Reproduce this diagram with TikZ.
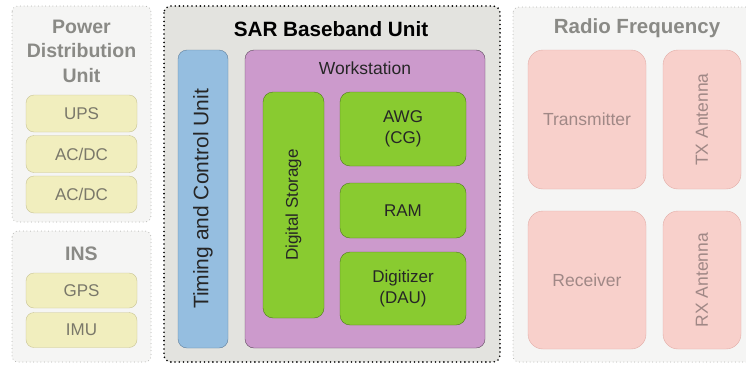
\documentclass[tikz,border=0pt]{standalone}
\usepackage{fontspec}
\setmainfont{Liberation Sans}
\usetikzlibrary{positioning}
\definecolor{groupbg}{HTML}{F5F5F4}
\definecolor{sarbg}{HTML}{E3E3DF}
\definecolor{grouptxt}{HTML}{8A8A86}
\definecolor{pwrfill}{HTML}{F1EEBE}
\definecolor{pwrline}{HTML}{C9C494}
\definecolor{pwrtxt}{HTML}{7A786A}
\definecolor{tcufill}{HTML}{95BEE0}
\definecolor{tculine}{HTML}{5F7F9C}
\definecolor{wsfill}{HTML}{CC9ACC}
\definecolor{wsline}{HTML}{5E485E}
\definecolor{hwfill}{HTML}{89CB30}
\definecolor{hwline}{HTML}{4F7A1C}
\definecolor{rffill}{HTML}{F8D0CB}
\definecolor{rfline}{HTML}{E2ADA7}
\definecolor{rftxt}{HTML}{A08886}

\tikzset{
  group/.style={fill=groupbg, draw=grouptxt!70, line width=1pt, dash pattern=on 0pt off 3.6pt, line cap=round, rounded corners=6pt},
  sargroup/.style={fill=sarbg, draw=black, line width=1.8pt, dash pattern=on 0pt off 4.2pt, line cap=round, rounded corners=7pt},
  grouptitle/.style={text=grouptxt, font=\fontsize{19.5}{24.5}\selectfont\bfseries, align=center},
  pwrbox/.style={fill=pwrfill, draw=pwrline, rounded corners=8pt, text=pwrtxt, font=\fontsize{17}{20}\selectfont, minimum width=111pt, minimum height=37pt},
  hwbox/.style={fill=hwfill, draw=hwline, rounded corners=10pt, text=black!85, font=\fontsize{17}{21}\selectfont, align=center, minimum width=126pt},
  rfbox/.style={fill=rffill, draw=rfline, rounded corners=15pt, text=rftxt, font=\fontsize{17.5}{21}\selectfont, minimum height=139pt},
}

\begin{document}
\begin{tikzpicture}[x=1pt, y=-1pt]
  \useasboundingbox (0,0) rectangle (746,364);

  % power distribution and INS
  \draw[group] (12,6) rectangle (151,222);
  \node[grouptitle] (pdu) at (81.5,51) {Power\\Distribution\\Unit};
  \node[pwrbox] (ups) at (81.5,113.5) {UPS};
  \node[pwrbox] (acdca) at (81.5,154) {AC/DC};
  \node[pwrbox] (acdcb) at (81.5,194.5) {AC/DC};

  \draw[group] (12,231) rectangle (151,362);
  \node[grouptitle] (ins) at (81.5,254) {INS};
  \node[pwrbox, minimum height=35pt] (gps) at (81.5,290.5) {GPS};
  \node[pwrbox, minimum height=35pt] (imu) at (81.5,330) {IMU};

  % baseband unit
  \draw[sargroup] (164,6) rectangle (500,362);
  \node[font=\fontsize{20.7}{24}\selectfont\bfseries] (sar) at (331,29) {SAR Baseband Unit};
  \node[fill=tcufill, draw=tculine, rounded corners=9pt, minimum width=50pt, minimum height=298pt] (tcu) at (203,199) {};
  \node[rotate=90, font=\fontsize{21}{24}\selectfont, text=black!85] (tcutxt) at (tcu.center) {Timing and Control Unit};
  \node[fill=wsfill, draw=wsline, rounded corners=9pt, minimum width=240pt, minimum height=298pt] (ws) at (365,199) {};
  \node[font=\fontsize{17.5}{20}\selectfont, text=black!85, below=8pt of ws.north] (wstxt) {Workstation};
  \node[hwbox, minimum width=61pt, minimum height=226pt] (stor) at (293.5,205) {};
  \node[rotate=90, font=\fontsize{17}{20}\selectfont, text=black!85] (stortxt) at (stor.center) {Digital Storage};
  \node[hwbox, minimum height=74pt] (awg) at (403,129) {AWG\\(CG)};
  \node[hwbox, minimum height=55pt] (ram) at (403,210.5) {RAM};
  \node[hwbox, minimum height=73pt] (dau) at (403,288.5) {Digitizer\\(DAU)};

  % radio frequency
  \draw[group] (513,7) rectangle (760,362);
  \node[grouptitle, font=\fontsize{20.5}{24}\selectfont\bfseries] (rf) at (637,28) {Radio Frequency};
  \node[rfbox, minimum width=118pt] (tx) at (587,119.5) {Transmitter};
  \node[rfbox, minimum width=78pt] (txant) at (702,119.5) {};
  \node[rotate=90, text=rftxt, font=\fontsize{17.5}{20}\selectfont] (txanttxt) at (txant.center) {TX Antenna};
  \node[rfbox, minimum width=118pt, minimum height=138pt] (rx) at (587,280) {Receiver};
  \node[rfbox, minimum width=78pt, minimum height=138pt] (rxant) at (702,280) {};
  \node[rotate=90, text=rftxt, font=\fontsize{17.5}{20}\selectfont] (rxanttxt) at (rxant.center) {RX Antenna};
\end{tikzpicture}
\end{document}
